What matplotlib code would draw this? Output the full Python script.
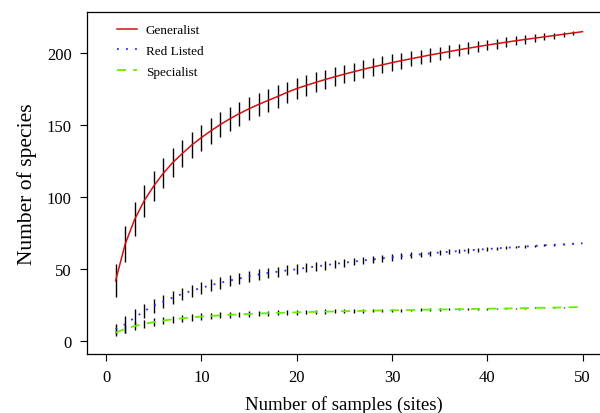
import numpy as np
import matplotlib
matplotlib.use("Agg")
import matplotlib.pyplot as plt

# --- data (species accumulation, mean +/- sd) ---
sites = list(range(1, 51))

generalist = [42.0, 67.3, 84.6, 97.5, 107.7, 116.5, 124.0, 130.3, 136.2, 141.3,
              146.0, 150.4, 154.4, 158.0, 161.3, 164.3, 167.1, 169.8, 172.7, 175.3,
              177.5, 179.6, 181.6, 183.5, 185.3, 187.0, 188.7, 190.3, 191.8, 193.3,
              194.7, 196.0, 197.3, 198.6, 199.8, 201.0, 202.2, 203.3, 204.4, 205.5,
              206.5, 207.5, 208.5, 209.4, 210.3, 211.2, 212.1, 213.0, 213.9, 214.8]
generalist_sd = [11.6, 12.5, 11.8, 11.1, 10.6, 10.4, 9.8, 9.6, 9.2, 9.0,
                 8.8, 8.6, 8.4, 8.3, 8.1, 8.0, 7.9, 7.7, 7.5, 7.3,
                 7.1, 6.9, 6.7, 6.5, 6.4, 6.2, 6.1, 6.0, 5.9, 5.7,
                 5.5, 5.3, 5.1, 4.9, 4.6, 4.5, 4.3, 4.1, 3.9, 3.7,
                 3.5, 3.3, 3.1, 2.9, 2.7, 2.4, 2.1, 1.6, 1.1, 0.0]

red_listed = [8.6, 11.8, 16.4, 21.0, 24.6, 27.6, 30.3, 32.9, 35.1, 37.1,
              38.9, 40.6, 42.2, 43.6, 45.0, 46.3, 47.4, 48.3, 49.2, 50.0,
              51.0, 51.9, 52.8, 53.7, 54.5, 55.3, 56.1, 56.8, 57.6, 58.3,
              59.0, 59.7, 60.3, 61.0, 61.6, 62.1, 62.6, 63.1, 63.6, 64.0,
              64.5, 64.9, 65.4, 65.8, 66.2, 66.6, 67.0, 67.3, 67.7, 68.0]
red_listed_sd = [3.6, 6.0, 6.0, 5.1, 4.7, 4.6, 4.4, 4.2, 4.2, 4.2,
                 4.1, 4.0, 3.9, 3.9, 3.8, 3.7, 3.6, 3.5, 3.4, 3.3,
                 3.2, 3.1, 3.0, 2.9, 2.8, 2.7, 2.6, 2.5, 2.4, 2.3,
                 2.2, 2.1, 2.0, 1.9, 1.8, 1.7, 1.6, 1.5, 1.4, 1.3,
                 1.2, 1.1, 1.0, 0.9, 0.8, 0.7, 0.6, 0.5, 0.3, 0.0]

specialist = [6.0, 8.6, 10.6, 12.1, 13.3, 14.4, 15.3, 16.0, 16.6, 17.2,
              17.6, 18.0, 18.4, 18.7, 19.0, 19.3, 19.5, 19.7, 19.9, 20.1,
              20.3, 20.4, 20.6, 20.7, 20.9, 21.0, 21.1, 21.3, 21.4, 21.5,
              21.6, 21.7, 21.9, 22.0, 22.1, 22.2, 22.3, 22.4, 22.5, 22.6,
              22.7, 22.8, 22.9, 23.0, 23.2, 23.3, 23.4, 23.5, 23.7, 23.8]
specialist_sd = [2.6, 3.0, 2.8, 2.6, 2.6, 2.5, 2.3, 2.3, 2.2, 2.1,
                 2.1, 2.0, 2.0, 1.9, 1.9, 1.8, 1.8, 1.7, 1.7, 1.6,
                 1.6, 1.5, 1.5, 1.4, 1.4, 1.3, 1.3, 1.2, 1.2, 1.1,
                 1.1, 1.0, 1.0, 0.9, 0.9, 0.8, 0.8, 0.7, 0.7, 0.6,
                 0.6, 0.5, 0.5, 0.4, 0.4, 0.3, 0.3, 0.2, 0.1, 0.0]

plt.rcParams['font.family'] = ['Liberation Serif', 'DejaVu Serif']

fig = plt.figure(figsize=(6, 4.14), dpi=100)
ax = fig.add_axes([0.145, 0.1425, 0.8577, 0.826])

x = np.array(sites)
for mean, sd in [(generalist, generalist_sd), (red_listed, red_listed_sd), (specialist, specialist_sd)]:
    mean = np.array(mean)
    sd = np.array(sd)
    ax.vlines(x, mean - sd, mean + sd, color='black', lw=1.0, zorder=2)

ax.plot(x, generalist, color='#D41010', lw=1.1, label='Generalist', zorder=3)
ax.plot(x, red_listed, color='#2A2AFF', lw=1.3, dashes=(1, 4), label='Red Listed', zorder=3)
ax.plot(x, specialist, color='#66EE00', lw=1.3, dashes=(5, 4), label='Specialist', zorder=3)

ax.set_xlim(-2, 52)
ax.set_ylim(-8.8, 228.4)
ax.set_xticks([0, 10, 20, 30, 40, 50])
ax.set_yticks([0, 50, 100, 150, 200])
ax.tick_params(direction='out', length=5, width=0.8, labelsize=12, pad=6)
for s in ax.spines.values():
    s.set_linewidth(0.9)

ax.set_xlabel('Number of samples (sites)', fontsize=13.5, labelpad=7)
ax.set_ylabel('Number of species', fontsize=15.5, labelpad=7)

ax.legend(loc='upper left', bbox_to_anchor=(0.035, 1.0), frameon=False, fontsize=9.5,
          handlelength=1.5, handletextpad=0.7, labelspacing=0.65)

fig.savefig('out.png', dpi=100)
